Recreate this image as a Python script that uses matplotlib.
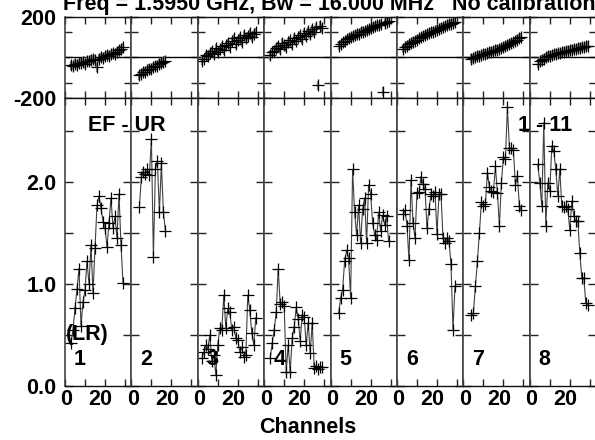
import numpy as np
import matplotlib
matplotlib.use("Agg")
import matplotlib.pyplot as plt

plt.rcParams['font.family'] = ['Liberation Sans', 'DejaVu Sans']
plt.rcParams['font.weight'] = 'bold'

# ---------------- data ----------------
panel_labels = ["1", "2", "3", "4", "5", "6", "7", "8"]
chan_start = [3, 4, 2, 3, 4, 3, 4, 4]

amp1 = [0.42,0.55,0.76,0.95,1.15,0.59,0.82,0.94,1.22,1.00,1.38,0.91,1.35,1.77,1.86,1.74,1.61,1.55,1.36,1.60,1.84,1.55,1.66,1.45,1.88,1.38,1.01]
amp2 = [1.75,2.05,2.10,2.08,2.12,2.07,2.42,1.26,2.12,2.20,1.70,2.18,1.70,1.52]
amp3 = [0.27,0.33,0.40,0.36,0.50,0.24,0.30,0.11,0.40,0.57,0.55,0.89,0.57,0.76,0.72,0.55,0.58,0.47,0.45,0.33,0.38,0.28,0.30,0.89,0.74,0.52,0.40,0.67]
amp4 = [0.27,0.42,0.55,0.72,1.15,0.80,0.82,0.78,0.14,0.40,0.14,0.47,0.58,0.77,0.66,0.44,0.70,0.68,0.40,0.62,0.32,0.62,0.18,0.20,0.17,0.19,0.19]
amp5 = [0.71,0.86,0.94,1.22,1.33,1.25,0.86,2.12,1.70,1.48,1.77,1.40,1.73,1.84,1.40,1.97,1.88,1.60,1.48,1.43,1.70,1.52,1.67,1.58,1.66,1.42]
amp6 = [1.68,1.72,1.57,1.23,2.02,1.60,1.45,1.89,1.90,2.05,1.98,1.93,1.55,1.73,1.88,1.86,1.90,1.49,1.88,1.88,1.45,1.40,1.45,1.42,1.19,0.55,0.98]
amp7 = [0.70,0.71,0.98,1.22,1.50,1.80,1.76,1.78,2.09,1.95,1.91,1.90,2.15,1.89,1.57,1.99,2.24,2.22,2.73,2.33,2.33,2.31,1.97,2.06,1.76,1.72]
amp8 = [2.17,1.99,1.76,2.58,1.57,1.99,1.91,2.35,2.30,2.12,1.86,2.12,1.76,1.75,1.76,1.73,1.53,1.81,1.66,1.62,1.62,1.30,1.06,1.06,0.81,0.79]

ph1 = [-38,-42,-30,-35,-28,-25,-20,-30,-15,-18,-10,-8,-12,-48,-5,0,-2,5,10,8,15,20,18,28,35,40,51]
ph2 = [-89,-80,-72,-70,-62,-55,-58,-48,-42,-40,-30,-28,-20,-15]
ph3 = [-15,-5,10,5,20,30,15,45,25,40,55,35,60,70,50,80,95,65,85,100,75,110,95,105,120,100,115,125]
ph4 = [10,25,30,45,55,40,70,60,50,75,85,65,95,80,100,110,90,120,105,130,115,140,125,150,-138,158,145]
ph5 = [59,65,75,80,90,95,100,105,110,115,118,125,128,130,135,140,145,150,155,160,162,165,-171,172,178,183]
ph6 = [43,50,58,65,70,78,82,88,95,100,105,110,115,120,125,128,132,138,142,148,152,156,160,165,168,172,176]
ph7 = [-7,-3,2,5,8,12,15,18,20,25,28,30,35,38,42,45,50,55,60,65,70,75,82,88,95,100]
ph8 = [-31,-18,-10,-5,0,5,8,12,15,18,20,22,25,28,30,33,35,38,40,42,45,48,50,52,55,59]

amps = [amp1, amp2, amp3, amp4, amp5, amp6, amp7, amp8]
phases = [ph1, ph2, ph3, ph4, ph5, ph6, ph7, ph8]
phase_err = 22

amp_ticks = [0.0, 0.5, 1.0, 1.5, 2.0, 2.5]
amp_ticklabels = ["0.0", "", "1.0", "", "2.0", ""]
x_ticks = [0, 10, 20, 30]

title = "Freq = 1.5950 GHz, Bw = 16.000 MHz   No calibration applied"

# ---------------- layout (pixels) ----------------
W, H = 595, 440
FS = 15.5
fig = plt.figure(figsize=(W / 100, H / 100), dpi=100)

left0 = 65.0
pw = 66.4
ph_top, ph_bot = 17.3, 97.7
am_top, am_bot = 97.7, 386.0


def rect(x0, y_top, w, y_bot):
    return [x0 / W, 1 - y_bot / H, w / W, (y_bot - y_top) / H]


def style(ax):
    for name, s in ax.spines.items():
        if name in ('left', 'right'):
            s.set_linewidth(1.2)
            s.set_color('#444444')
        else:
            s.set_linewidth(1.0)
            s.set_color('#111111')
    ax.tick_params(direction='in', top=True, right=True, length=5, width=1.0,
                   color='#222222', labelsize=FS, pad=6)
    ax.set_xlim(0, 33.2)
    ax.set_xticks(x_ticks)


for i in range(8):
    x0 = left0 + i * pw
    ch = np.arange(chan_start[i], chan_start[i] + len(amps[i]))

    # phase panel
    axp = fig.add_axes(rect(x0, ph_top, pw, ph_bot))
    style(axp)
    axp.set_ylim(-200, 200)
    axp.set_yticks([-200, -125, 0, 125, 200])
    axp.axhline(0, color='black', lw=1.0)
    axp.errorbar(ch, phases[i], yerr=phase_err, fmt='none', ecolor='0.55',
                 elinewidth=1.6, capsize=0)
    axp.plot(ch, phases[i], linestyle='none', marker='+', ms=9, mew=0.9, color='black')
    axp.set_xticklabels([])
    if i == 0:
        axp.set_yticklabels(["-200", "", "", "", "200"])
    else:
        axp.set_yticklabels([])

    # amplitude panel
    axa = fig.add_axes(rect(x0, am_top, pw, am_bot))
    style(axa)
    axa.set_ylim(0, 2.823)
    axa.set_yticks(amp_ticks)
    axa.tick_params(axis='y', length=6)
    axa.plot(ch, amps[i], color='0.25', lw=0.8)
    axa.plot(ch, amps[i], linestyle='none', marker='+', ms=9, mew=0.9, color='black')
    axa.set_xticklabels([])
    if i == 0:
        axa.set_yticklabels(amp_ticklabels)
    else:
        axa.set_yticklabels([])

    # x labels "0" and "20"
    fig.text((x0 + 1.5) / W, 1 - 405 / H, "0", ha='center', va='baseline', fontsize=FS)
    fig.text((x0 + 35.5) / W, 1 - 405 / H, "20", ha='center', va='baseline', fontsize=FS)

    # panel number
    fig.text((x0 + 9) / W, 1 - 365 / H, panel_labels[i], ha='left', va='baseline', fontsize=FS)

fig.text(88 / W, 1 - 131 / H, "EF - UR", ha='left', va='baseline', fontsize=FS)
fig.text(572 / W, 1 - 131 / H, "1 - 11", ha='right', va='baseline', fontsize=FS)
fig.text(66 / W, 1 - 340 / H, "(LR)", ha='left', va='baseline', fontsize=FS)
fig.text(308 / W, 1 - 433 / H, "Channels", ha='center', va='baseline', fontsize=FS)
fig.text(63 / W, 1 - 10 / H, title, ha='left', va='baseline', fontsize=FS)

fig.savefig("out.png", dpi=100)
